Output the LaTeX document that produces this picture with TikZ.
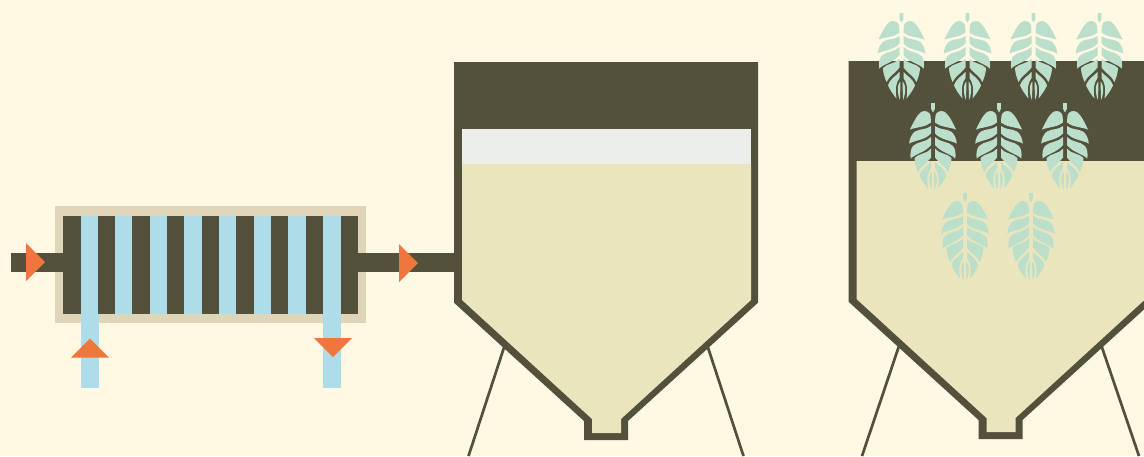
\documentclass[tikz,border=0pt]{standalone}
\definecolor{bgc}{HTML}{FFF8E3}
\definecolor{dark}{HTML}{53503B}
\definecolor{framec}{HTML}{DFD6BA}
\definecolor{bluec}{HTML}{AEDCE9}
\definecolor{orangec}{HTML}{F0773C}
\definecolor{tanc}{HTML}{EAE5BC}
\definecolor{foamc}{HTML}{ECEEEC}
\definecolor{leafc}{HTML}{BBDFCB}
\tikzset{
 darkfill/.style={fill=dark},
 strip/.style={fill=bluec},
 arrowtri/.style={fill=orangec},
 legline/.style={draw=dark,line width=2.7pt},
 lobe/.style={fill=leafc}
}
\newcommand{\halfleaf}{%
 \fill[lobe] (2.4,13) .. controls (2.6,9) and (8,6.5) .. (12,9) .. controls (16,12) and (20,20) .. (23,26.5) .. controls (16,24) and (7,24) .. (2,19.5) -- cycle;
 \fill[lobe] (2,23) .. controls (7,27) and (13,25.5) .. (18,28.5) .. controls (21.5,31) and (23.5,36) .. (23.8,40.5) .. controls (17,37) and (8,37) .. (2,30.5) -- cycle;
 \fill[lobe] (2,34) .. controls (7,39.5) and (15,38) .. (20,43) .. controls (22.5,46) and (23,51) .. (22.3,55.5) .. controls (17,50.5) and (8,49.5) .. (2,42) -- cycle;
 \fill[lobe] (2,45.5) .. controls (7,51.5) and (14,50) .. (18.5,55) .. controls (18.5,60) and (16.5,65) .. (15,69) .. controls (12,63) and (7,61) .. (2,54.5) -- cycle;
 \fill[lobe] (2,59) .. controls (6,63.5) and (11,65) .. (13.5,72.5) .. controls (11.5,77) and (8,82) .. (5,85.5) .. controls (6.5,78) and (6,70) .. (2,65) -- cycle;
 \fill[lobe] (1.2,68.5) .. controls (3.5,71) and (4,75) .. (3.6,79) .. controls (3.3,82) and (2.5,85) .. (1.6,87) .. controls (1.2,81) and (1.2,75) .. (1.2,68.5) -- cycle;
}
\newcommand{\leafat}[2]{%
 \begin{scope}[shift={(#1,#2)}]
  \fill[lobe] (-1.8,0) -- (1.8,0) -- (1.8,6) -- (0,9.5) -- (-1.8,6) -- cycle;
  \halfleaf
  \begin{scope}[xscale=-1]\halfleaf\end{scope}
 \end{scope}}
\begin{document}
\begin{tikzpicture}[x=1pt,y=-1pt]
\useasboundingbox (0,0) rectangle (1144,456);
\fill[bgc] (0,0) rectangle (1144,456);
% exchanger
\fill[framec] (55,206) rectangle (366,323);
\fill[darkfill] (63,216) rectangle (358,314);
% pipes
\fill[darkfill] (11,253) rectangle (63,272);
\fill[darkfill] (358,253) rectangle (456,272);
\foreach \a/\b in {115/132,150/167,184/202,219/236,254/271,288/306}{\fill[strip] (\a,216) rectangle (\b,314);}
\fill[strip] (81,216) rectangle (98,314);
\fill[strip] (81,314) rectangle (99,388);
\fill[strip] (323,216) rectangle (341,388);
% arrows
\fill[arrowtri] (26,243) -- (45,262) -- (26,281) -- cycle;
\fill[arrowtri] (399,244) -- (418,263) -- (399,282) -- cycle;
\fill[arrowtri] (71,357.5) -- (90,338.5) -- (109,357.5) -- cycle;
\fill[arrowtri] (314,338) -- (352,338) -- (333,357) -- cycle;
% legs
\draw[legline] (504.5,346) -- (468.5,456);
\draw[legline] (707.5,346) -- (743.5,456);
\draw[legline] (899,346) -- (862,456);
\draw[legline] (1101.5,346) -- (1139,456);
% tank 1
\fill[darkfill] (454,62) -- (758,62) -- (758,302.7) -- (628,421) -- (628,440) -- (584,440) -- (584,421) -- (454,302.7) -- cycle;
\fill[tanc] (462,163) -- (751,163) -- (751,300) -- (621,419) -- (621,433) -- (592,433) -- (592,419) -- (462,300) -- cycle;
\fill[foamc] (462,129) rectangle (751,163.5);
% tank 2
\fill[darkfill] (848.5,61) -- (1152.5,61) -- (1152.5,301.7) -- (1022.5,420) -- (1022.5,439) -- (978.5,439) -- (978.5,420) -- (848.5,301.7) -- cycle;
\fill[tanc] (856.5,161) -- (1145.5,161) -- (1145.5,299) -- (1015.5,418) -- (1015.5,432) -- (986.5,432) -- (986.5,418) -- (856.5,299) -- cycle;
% leaves
\foreach \x in {901.5,967.5,1033.5,1099.5}{\leafat{\x}{13}}
\foreach \x in {933,999,1065}{\leafat{\x}{103}}
\foreach \x in {965,1031}{\leafat{\x}{193}}
\end{tikzpicture}
\end{document}
